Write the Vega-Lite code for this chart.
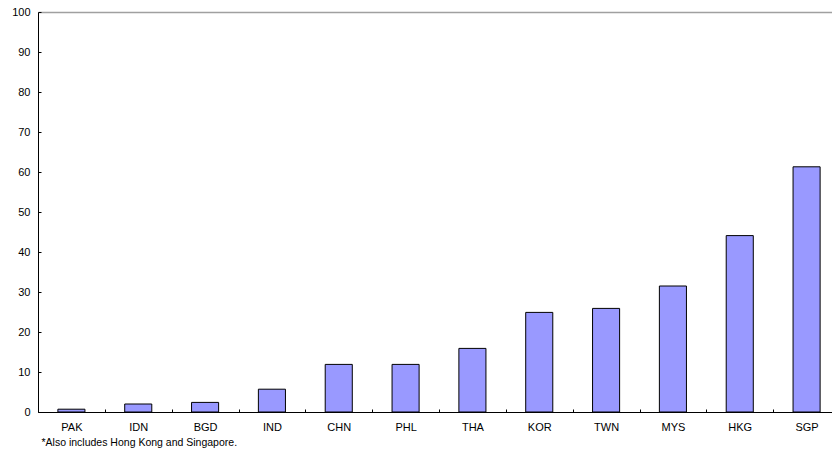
{
  "$schema": "https://vega.github.io/schema/vega-lite/v6.json",
  "width": 794,
  "height": 400,
  "autosize": {"type": "none"},
  "padding": {"left": 38, "top": 12, "right": 0, "bottom": 39},
  "background": "white",
  "config": {
    "view": {"stroke": null},
    "font": "Liberation Sans",
    "axis": {"labelFont": "Liberation Sans", "titleFont": "Liberation Sans", "labelColor": "black", "domainColor": "black", "tickColor": "black", "grid": false}
  },
  "data": {
    "values": [
      {"country": "PAK", "value": 0.7},
      {"country": "IDN", "value": 2.0},
      {"country": "BGD", "value": 2.4},
      {"country": "IND", "value": 5.7},
      {"country": "CHN", "value": 11.9},
      {"country": "PHL", "value": 11.9},
      {"country": "THA", "value": 15.9},
      {"country": "KOR", "value": 24.9},
      {"country": "TWN", "value": 25.9},
      {"country": "MYS", "value": 31.5},
      {"country": "HKG", "value": 44.1},
      {"country": "SGP", "value": 61.3}
    ]
  },
  "mark": {"type": "bar", "fill": "#9999FF", "stroke": "black", "strokeWidth": 1, "width": {"band": 0.405}},
  "encoding": {
    "x": {
      "field": "country",
      "type": "nominal",
      "sort": null,
      "scale": {"paddingInner": 0, "paddingOuter": 0, "range": [0, 802]},
      "axis": {
        "title": "*Also includes Hong Kong and Singapore.",
        "titleFontSize": 10.5,
        "titleFontWeight": "normal",
        "titleColor": "black",
        "titleAnchor": "start",
        "titleAlign": "left",
        "titleBaseline": "alphabetic",
        "titleX": 3,
        "titleY": 33,
        "labelAngle": 0,
        "labelFontSize": 11,
        "labelPadding": 12,
        "tickBand": "extent",
        "tickSize": -3,
        "domainWidth": 1
      }
    },
    "y": {
      "field": "value",
      "type": "quantitative",
      "scale": {"domain": [0, 100], "nice": false},
      "axis": {
        "title": null,
        "values": [0, 10, 20, 30, 40, 50, 60, 70, 80, 90, 100],
        "labelFontSize": 11,
        "labelPadding": 11,
        "tickSize": -3,
        "domainWidth": 1,
        "labelOverlap": false,
        "grid": true,
        "gridWidth": 1.3,
        "gridColor": {"condition": {"test": "datum.value === 100", "value": "#a0a0a0"}, "value": "transparent"}
      }
    }
  }
}
